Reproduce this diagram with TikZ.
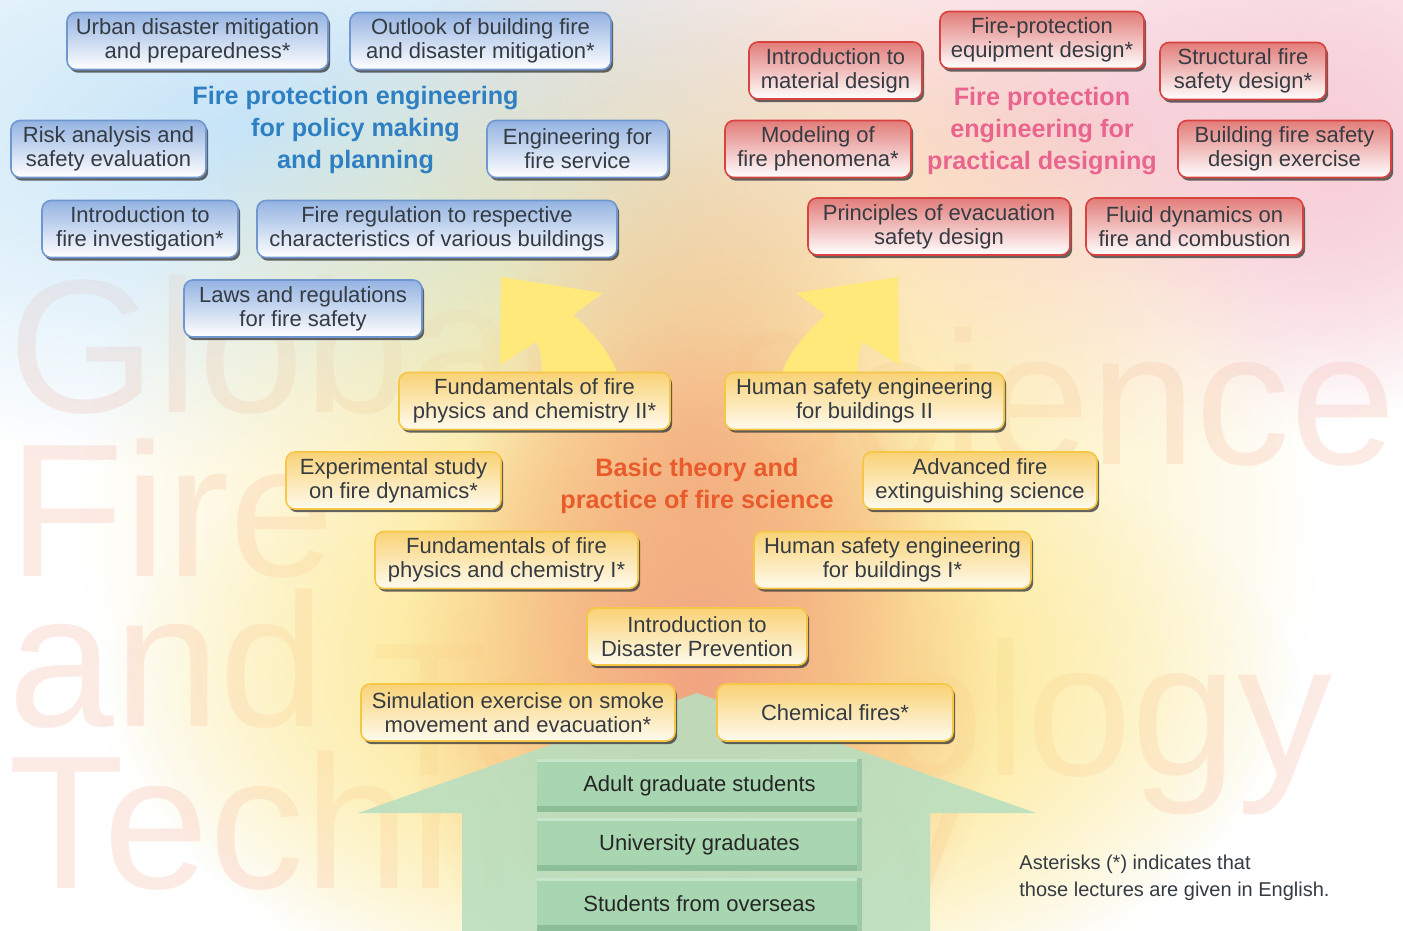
\documentclass[tikz,border=0pt]{standalone}
\usepackage{fontspec}
\setmainfont{Liberation Sans}
\usetikzlibrary{positioning, shadows, fadings}

\definecolor{textgray}{HTML}{353B42}
\definecolor{bluetop}{HTML}{94B3E2}
\definecolor{blueedge}{HTML}{7097CF}
\definecolor{redtop}{HTML}{E27C79}
\definecolor{rededge}{HTML}{D8423F}
\definecolor{yellowtop}{HTML}{F9D276}
\definecolor{yellowedge}{HTML}{F6C647}
\definecolor{yellowbottom}{HTML}{FFFBEE}
\definecolor{policyblue}{HTML}{2F80C3}
\definecolor{designpink}{HTML}{E9648F}
\definecolor{basicorange}{HTML}{EA5B2B}
\definecolor{cloudblue}{HTML}{C6E4F7}
\definecolor{cloudpink}{HTML}{F7CDD7}
\definecolor{glowyellow}{HTML}{FDE687}
\definecolor{gloworange}{HTML}{F2A481}
\definecolor{arrowyellow}{HTML}{FEE97A}
\definecolor{housegreen}{HTML}{B8DFC0}
\definecolor{bargreen}{HTML}{A8D6B0}
\definecolor{bardark}{HTML}{8CBE97}
\definecolor{barlight}{HTML}{C6E6CC}
\definecolor{watermark}{HTML}{F2A28C}

\tikzfading[name=glow, inner color=transparent!0, outer color=transparent!100]

\tikzset{
  course/.style={rounded corners=4.5pt, minimum height=28.5pt, align=center,
    inner sep=1pt, text=textgray, font=\fontsize{11}{12}\selectfont, line width=0.8pt,
    drop shadow={shadow xshift=1.1pt, shadow yshift=-1.6pt, opacity=0.8, fill=black!75}},
  policy/.style={course, draw=blueedge, top color=bluetop, bottom color=white},
  design/.style={course, draw=rededge, top color=redtop, bottom color=white},
  basic/.style={course, draw=yellowedge, top color=yellowtop, bottom color=yellowbottom},
  heading/.style={align=center, font=\bfseries\fontsize{12.6}{16}\selectfont},
  cohort/.style={fill=bargreen, minimum width=162.5pt, minimum height=26.5pt,
    text=black!85, font=\fontsize{11}{13}\selectfont,
    path picture={
      \fill[barlight] (path picture bounding box.north west) rectangle ([yshift=-1.5pt]path picture bounding box.north east);
      \fill[bardark] (path picture bounding box.south west) rectangle ([yshift=3pt]path picture bounding box.south east);
      \fill[bardark!85] ([xshift=-2.5pt]path picture bounding box.north east) rectangle (path picture bounding box.south east);
    }},
  wm/.style={text=watermark, opacity=0.22, inner sep=0pt, font=\fontsize{95}{95}\selectfont},
}

\begin{document}
\begin{tikzpicture}[x=0.5pt, y=-0.5pt]
  \useasboundingbox (0,0) rectangle (1403,931);
  \fill[white] (0,0) rectangle (1403,931);

  % watermark
  \node[wm, anchor=base west] (wmglobal) at (8,412) {Global};
  \node[wm, anchor=base west] (wmfire) at (8,576) {Fire};
  \node[wm, anchor=base west] (wmand) at (8,726) {and};
  \node[wm, anchor=base west] (wmtech) at (8,888) {Technology};
  \node[wm, anchor=base east] (wmscience) at (1397,464) {Science};
  \node[wm, anchor=base east] (wmtechno) at (1333,775) {Technology};

  % background glows
  \fill[cloudblue, path fading=glow] (240,130) ellipse [x radius=680, y radius=340];
  \fill[cloudblue, path fading=glow] (560,190) ellipse [x radius=340, y radius=280];
  \fill[cloudpink, path fading=glow] (1080,130) ellipse [x radius=700, y radius=320];
  \fill[cloudpink, path fading=glow] (1340,150) ellipse [x radius=240, y radius=260];
  \fill[glowyellow, path fading=glow] (700,520) ellipse [x radius=620, y radius=580];
  \fill[glowyellow, path fading=glow] (700,700) ellipse [x radius=600, y radius=300];
  \fill[gloworange, path fading=glow, opacity=0.65] (700,470) ellipse [x radius=230, y radius=340];
  \fill[gloworange, path fading=glow] (700,680) ellipse [x radius=300, y radius=360];

  % green house
  \fill[housegreen, fill opacity=0.88] (358,813) -- (697,693) -- (1036,813) -- (930,813)
    -- (930,931) -- (462,931) -- (462,813) -- cycle;

  % yellow arrows
  \fill[arrowyellow] (619,380) .. controls (614,355) and (588,327) .. (573,315) -- (603,293)
    -- (501,277) -- (500,365) -- (536,342) .. controls (540,348) and (542,358) .. (542,380) -- cycle;
  \fill[arrowyellow] (780,380) .. controls (785,355) and (811,327) .. (826,315) -- (796,293)
    -- (898,277) -- (899,365) -- (863,342) .. controls (859,348) and (857,358) .. (857,380) -- cycle;

  % policy making
  \node[policy, minimum width=130.5pt] (urban) at (197.5,41) {Urban disaster mitigation\\and preparedness*};
  \node[policy, minimum width=130.5pt] (outlook) at (480.5,41) {Outlook of building fire\\and disaster mitigation*};
  \node[policy, minimum width=97.5pt] (risk) at (108.5,149) {Risk analysis and\\safety evaluation};
  \node[policy, minimum width=90.5pt] (service) at (577.5,149) {Engineering for\\fire service};
  \node[policy, minimum width=98pt] (invest) at (140,229) {Introduction to\\fire investigation*};
  \node[policy, minimum width=180pt] (regul) at (437,229) {Fire regulation to respective\\characteristics of various buildings};
  \node[policy, minimum width=119pt] (laws) at (303,308.5) {Laws and regulations\\for fire safety};
  \node[heading, text=policyblue] (policytitle) at (355.5,130) {Fire protection engineering\\for policy making\\and planning};

  % practical designing
  \node[design, minimum width=86.5pt] (material) at (835.5,70.5) {Introduction to\\material design};
  \node[design, minimum width=102pt] (equip) at (1042,40) {Fire-protection\\equipment design*};
  \node[design, minimum width=83pt] (struct) at (1243,71) {Structural fire\\safety design*};
  \node[design, minimum width=93pt] (model) at (818,149) {Modeling of\\fire phenomena*};
  \node[design, minimum width=106.5pt] (exercise) at (1284.5,149) {Building fire safety\\design exercise};
  \node[design, minimum width=131pt] (evac) at (939,226.5) {Principles of evacuation\\safety design};
  \node[design, minimum width=108.5pt] (fluid) at (1194.5,226.5) {Fluid dynamics on\\fire and combustion};
  \node[heading, text=designpink] (designtitle) at (1042,131) {Fire protection\\engineering for\\practical designing};

  % basic theory
  \node[basic, minimum width=135.5pt] (physII) at (534.5,401) {Fundamentals of fire\\physics and chemistry II*};
  \node[basic, minimum width=139.5pt] (humanII) at (864.5,401) {Human safety engineering\\for buildings II};
  \node[basic, minimum width=107.5pt] (experim) at (393.5,480.5) {Experimental study\\on fire dynamics*};
  \node[basic, minimum width=117pt] (extinct) at (980,480.5) {Advanced fire\\extinguishing science};
  \node[basic, minimum width=131.5pt] (physI) at (506.5,560) {Fundamentals of fire\\physics and chemistry I*};
  \node[basic, minimum width=138.5pt] (humanI) at (892.5,560) {Human safety engineering\\for buildings I*};
  \node[basic, minimum width=110pt] (prevent) at (697,636.5) {Introduction to\\Disaster Prevention};
  \node[basic, minimum width=157pt] (smoke) at (518,712.5) {Simulation exercise on smoke\\movement and evacuation*};
  \node[basic, minimum width=118pt] (chem) at (835,712.5) {Chemical fires*};
  \node[heading, text=basicorange] (basictitle) at (697,486) {Basic theory and\\practice of fire science};

  % students
  \node[cohort] (adult) at (699.5,785.5) {Adult graduate students};
  \node[cohort, below=2.75pt of adult] (univ) {University graduates};
  \node[cohort, below=2.75pt of univ] (overseas) {Students from overseas};

  \node[anchor=west, align=left, inner sep=0pt, text=textgray, font=\fontsize{10}{13.5}\selectfont]
    (note) at (1019,877.5) {Asterisks (*) indicates that\\those lectures are given in English.};
\end{tikzpicture}
\end{document}
